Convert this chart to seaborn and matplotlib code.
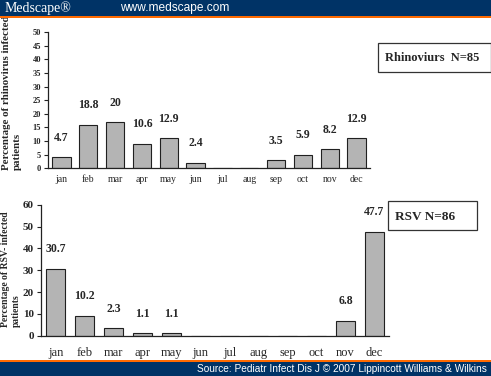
import numpy as np
import pandas as pd
import matplotlib
matplotlib.use("Agg")
import matplotlib.pyplot as plt
from matplotlib.patches import Rectangle
import seaborn as sns

months = ["jan", "feb", "mar", "apr", "may", "jun",
          "jul", "aug", "sep", "oct", "nov", "dec"]

# rhinovirus: bars drawn as counts, labels give the percentage
rhino_counts = [4, 16, 17, 9, 11, 2, 0, 0, 3, 5, 7, 11]
rhino_pct = ["4.7", "18.8", "20", "10.6", "12.9", "2.4", "", "", "3.5", "5.9", "8.2", "12.9"]

# RSV: bars and labels
rsv_vals = [30.7, 9.2, 3.5, 1.1, 1.1, 0, 0, 0, 0, 0, 6.8, 47.7]
rsv_pct = ["30.7", "10.2", "2.3", "1.1", "1.1", "", "", "", "", "", "6.8", "47.7"]

sns.set_style("white")
plt.rcParams["font.family"] = ["Liberation Serif", "DejaVu Serif"]

W, H = 491, 376
fig = plt.figure(figsize=(W / 100, H / 100), dpi=100)


def px(x0, y0, x1, y1):
    # pixel box (top-left origin) -> figure fraction rect
    return [x0 / W, 1 - y1 / H, (x1 - x0) / W, (y1 - y0) / H]


bar_col = "#b4b4b4"
edge_col = "#202020"


def draw(ax, vals, labels, ymax, ystep, tick_fs, month_fs, lab_fs, pad):
    df = pd.DataFrame({"month": months, "value": vals})
    sns.barplot(data=df, x="month", y="value", order=months, color=bar_col,
                edgecolor=edge_col, linewidth=0.8, width=0.68, saturation=1, ax=ax)
    ax.set_xlim(-0.5, 11.5)
    ax.set_ylim(0, ymax)
    ax.set_yticks(np.arange(0, ymax + 1, ystep))
    ax.set_xlabel("")
    ax.set_ylabel("")
    sns.despine(ax=ax)
    for s in ("left", "bottom"):
        ax.spines[s].set_color("#222222")
        ax.spines[s].set_linewidth(0.9)
    ax.tick_params(axis="x", which="major", length=0, pad=pad, labelsize=month_fs)
    ax.set_xticks(np.arange(-0.5, 12, 1), minor=True)
    ax.tick_params(axis="x", which="minor", length=3, width=0.8, color="#222222", direction="out")
    ax.tick_params(axis="y", length=3, width=0.8, color="#222222", direction="out",
                   labelsize=tick_fs, pad=2, left=True)
    for t in ax.get_yticklabels():
        t.set_fontweight("bold")
    for i, (v, lab) in enumerate(zip(vals, labels)):
        if lab:
            ax.annotate(lab, (i, v), xytext=(0, 14), textcoords="offset points",
                        ha="center", va="center", fontsize=lab_fs, fontweight="bold")


ax1 = fig.add_axes(px(48, 32, 370, 168.3))
draw(ax1, rhino_counts, rhino_pct, 50, 5, 6, 7, 8.5, 5)

ax2 = fig.add_axes(px(41, 204.7, 389, 335.7))
draw(ax2, rsv_vals, rsv_pct, 60, 10, 8, 9, 8.5, 8)

# y labels
fig.text(12 / W, 1 - 170 / H, "Percentage of rhinovirus infected\npatients", rotation=90,
         ha="center", va="bottom", multialignment="left", fontsize=7.8, fontweight="bold",
         linespacing=1.3)
fig.text(11 / W, 1 - 327 / H, "Percentage of RSV- infected\npatients", rotation=90,
         ha="center", va="bottom", multialignment="left", fontsize=6.9, fontweight="bold",
         linespacing=1.35)

# legend boxes
fig.patches.append(Rectangle((378 / W, 1 - 72 / H), 112.5 / W, 29 / H, transform=fig.transFigure,
                             facecolor="white", edgecolor="#333333", linewidth=0.9))
fig.text(385 / W, 1 - 58 / H, "Rhinoviurs  N=85", ha="left", va="center",
         fontsize=9, fontweight="bold")
fig.patches.append(Rectangle((388 / W, 1 - 230 / H), 89 / W, 29 / H, transform=fig.transFigure,
                             facecolor="white", edgecolor="#333333", linewidth=0.9))
fig.text(395 / W, 1 - 217 / H, "RSV N=86", ha="left", va="center",
         fontsize=9.5, fontweight="bold")

# banners
navy = "#003366"
orange = "#ff6a00"
fig.patches.append(Rectangle((0, 1 - 16 / H), 1, 16 / H, transform=fig.transFigure,
                             facecolor=navy, edgecolor="none", zorder=10))
fig.patches.append(Rectangle((0, 1 - 17.5 / H), 1, 1.5 / H, transform=fig.transFigure,
                             facecolor=orange, edgecolor="none", zorder=10))
fig.patches.append(Rectangle((0, 0), 1, 14 / H, transform=fig.transFigure,
                             facecolor=navy, edgecolor="none", zorder=10))
fig.patches.append(Rectangle((0, 14 / H), 1, 2 / H, transform=fig.transFigure,
                             facecolor=orange, edgecolor="none", zorder=10))
fig.text(5 / W, 1 - 8 / H, "Medscape\u00ae", color="white", fontsize=10, ha="left",
         va="center", zorder=11)
fig.text(120 / W, 1 - 8 / H, "www.medscape.com", color="white", fontsize=8.6, ha="left",
         va="center", family=["Liberation Sans", "DejaVu Sans"], zorder=11)
fig.text(487 / W, 7 / H, "Source: Pediatr Infect Dis J \u00a9 2007 Lippincott Williams & Wilkins",
         color="white", fontsize=7.3, ha="right", va="center",
         family=["Liberation Sans", "DejaVu Sans"], zorder=11)

fig.savefig("out.png", dpi=100)
